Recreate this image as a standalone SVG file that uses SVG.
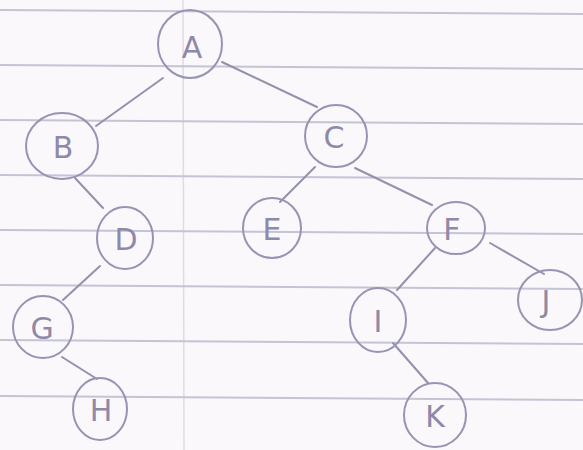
<svg xmlns="http://www.w3.org/2000/svg" width="583" height="450" viewBox="0 0 583 450">
<style>
.rule{stroke:#c3c4d4;stroke-width:2.2;fill:none}
.margin{stroke:#dedbe5;stroke-width:1.5}
.node ellipse{fill:none;stroke:#9893b2;stroke-width:2}
.node text{font-family:"DejaVu Sans",sans-serif;font-size:30px;fill:#8e89a8;text-anchor:middle}
.edge{stroke:#9490ad;stroke-width:2;fill:none;stroke-linecap:round}
</style>
<rect width="583" height="450" fill="#fbf8fc"/>
<g id="paper">
<line class="margin" x1="183" y1="0" x2="184" y2="450"/>
<line class="rule" x1="0" y1="10" x2="583" y2="14"/>
<line class="rule" x1="0" y1="65" x2="583" y2="69"/>
<line class="rule" x1="0" y1="120" x2="583" y2="124"/>
<line class="rule" x1="0" y1="175" x2="583" y2="179"/>
<line class="rule" x1="0" y1="230" x2="583" y2="234"/>
<line class="rule" x1="0" y1="285" x2="583" y2="289"/>
<line class="rule" x1="0" y1="340" x2="583" y2="344"/>
<line class="rule" x1="0" y1="396" x2="583" y2="400"/>
</g>
<g id="connectors">
<line class="edge" x1="163" y1="78" x2="96" y2="126"/>
<line class="edge" x1="222" y1="62" x2="317" y2="107"/>
<line class="edge" x1="75" y1="178" x2="103" y2="208"/>
<line class="edge" x1="315" y1="167" x2="280" y2="202"/>
<line class="edge" x1="355" y1="168" x2="432" y2="205"/>
<line class="edge" x1="100" y1="266" x2="63" y2="300"/>
<line class="edge" x1="435" y1="248" x2="397" y2="290"/>
<line class="edge" x1="490" y1="243" x2="544" y2="274"/>
<line class="edge" x1="62" y1="357" x2="97" y2="379"/>
<line class="edge" x1="393" y1="343" x2="428" y2="383"/>
</g>
<g id="A" class="node"><ellipse cx="190" cy="44" rx="32" ry="34"/><text x="192" y="58">A</text></g>
<g id="B" class="node"><ellipse cx="62" cy="146" rx="36" ry="33"/><text x="63" y="158">B</text></g>
<g id="C" class="node"><ellipse cx="336" cy="136" rx="31" ry="31"/><text x="334" y="148">C</text></g>
<g id="D" class="node"><ellipse cx="125" cy="238" rx="28" ry="31"/><text x="126" y="250">D</text></g>
<g id="E" class="node"><ellipse cx="272" cy="228" rx="29" ry="30"/><text x="272" y="240">E</text></g>
<g id="F" class="node"><ellipse cx="456" cy="228" rx="29" ry="26"/><text x="452" y="240">F</text></g>
<g id="G" class="node"><ellipse cx="43" cy="327" rx="30" ry="31"/><text x="42" y="339">G</text></g>
<g id="H" class="node"><ellipse cx="100" cy="409" rx="27" ry="31"/><text x="101" y="421">H</text></g>
<g id="I" class="node"><ellipse cx="378" cy="320" rx="28" ry="32"/><text x="378" y="332">I</text></g>
<g id="J" class="node"><ellipse cx="550" cy="300" rx="32" ry="30"/><text x="546" y="312">J</text></g>
<g id="K" class="node"><ellipse cx="435" cy="415" rx="31" ry="32"/><text x="435" y="427">K</text></g>
</svg>
